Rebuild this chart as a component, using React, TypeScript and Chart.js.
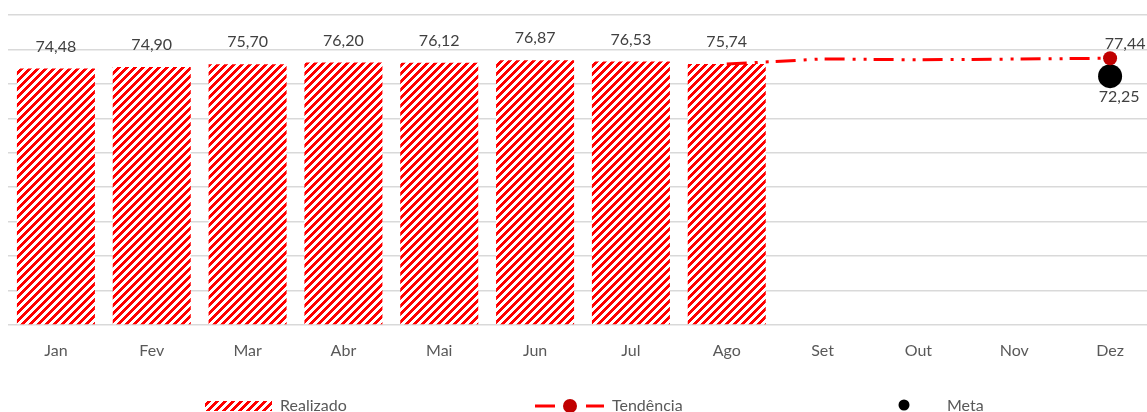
import React, { useEffect, useRef } from "react";
import { Chart, registerables } from "chart.js";

Chart.register(...registerables);

const months = ["Jan", "Fev", "Mar", "Abr", "Mai", "Jun", "Jul", "Ago", "Set", "Out", "Nov", "Dez"];
const realizado = [74.48, 74.9, 75.7, 76.2, 76.12, 76.87, 76.53, 75.74, null, null, null, null];
const tendencia = [null, null, null, null, null, null, null, 75.74, 77.25, 77.0, 77.2, 77.44];
const meta = [null, null, null, null, null, null, null, null, null, null, null, 72.25];
const yMin = 0;
const yMax = 90;
const yStep = 10;

const FONT = "Lato";
const fmt = (v: number) => v.toFixed(2).replace(".", ",");

function makePattern(ctx: CanvasRenderingContext2D): CanvasPattern {
  const c = document.createElement("canvas");
  c.width = 8;
  c.height = 8;
  const g = c.getContext("2d")!;
  const img = g.createImageData(8, 8);
  for (let y = 0; y < 8; y++) {
    for (let x = 0; x < 8; x++) {
      const i = (y * 8 + x) * 4;
      const on = (x + y) % 8 < 4;
      img.data[i] = 255;
      img.data[i + 1] = on ? 0 : 255;
      img.data[i + 2] = on ? 0 : 255;
      img.data[i + 3] = 255;
    }
  }
  g.putImageData(img, 0, 0);
  return ctx.createPattern(c, "repeat")!;
}

export default function App() {
  const ref = useRef<HTMLCanvasElement | null>(null);

  useEffect(() => {
    const canvas = ref.current!;
    const ctx0 = canvas.getContext("2d")!;
    const pattern = makePattern(ctx0);

    const labelsPlugin = {
      id: "valueLabels",
      afterDatasetsDraw(chart: any) {
        const ctx = chart.ctx;
        ctx.save();
        ctx.font = `16px ${FONT}`;
        ctx.fillStyle = "#404040";
        ctx.textAlign = "center";
        ctx.textBaseline = "middle";
        const barMeta = chart.getDatasetMeta(0);
        barMeta.data.forEach((el: any, i: number) => {
          const v = realizado[i];
          if (v == null) return;
          ctx.fillText(fmt(v), el.x, el.y - 22);
        });
        const tMeta = chart.getDatasetMeta(1);
        const last = tendencia.length - 1;
        const tEl = tMeta.data[last];
        if (tEl && tendencia[last] != null) {
          ctx.fillText(fmt(tendencia[last] as number), tEl.x + 15, tEl.y - 14);
        }
        const mMeta = chart.getDatasetMeta(2);
        meta.forEach((v, i) => {
          if (v == null) return;
          const el = mMeta.data[i];
          ctx.fillText(fmt(v), el.x + 9, el.y + 21);
        });
        ctx.restore();
      },
    };

    const legendPlugin = {
      id: "customLegend",
      afterDraw(chart: any) {
        const ctx = chart.ctx;
        ctx.save();
        const yc = 406;
        ctx.font = `16px ${FONT}`;
        ctx.fillStyle = "#595959";
        ctx.textAlign = "left";
        ctx.textBaseline = "middle";
        // Realizado
        ctx.fillStyle = pattern;
        ctx.fillRect(205, 401, 67, 10);
        ctx.fillStyle = "#595959";
        ctx.fillText("Realizado", 280, yc);
        // Tendência
        ctx.strokeStyle = "#FF0000";
        ctx.lineWidth = 3;
        ctx.beginPath();
        ctx.moveTo(535, yc);
        ctx.lineTo(555, yc);
        ctx.moveTo(586, yc);
        ctx.lineTo(604, yc);
        ctx.stroke();
        ctx.fillStyle = "#C00000";
        ctx.beginPath();
        ctx.arc(570, yc, 7, 0, Math.PI * 2);
        ctx.fill();
        ctx.fillStyle = "#595959";
        ctx.fillText("Tendência", 612, yc);
        // Meta
        ctx.fillStyle = "#000000";
        ctx.beginPath();
        ctx.arc(904, yc - 1, 5.5, 0, Math.PI * 2);
        ctx.fill();
        ctx.fillStyle = "#595959";
        ctx.fillText("Meta", 947, yc);
        ctx.restore();
      },
    };

    const chart = new Chart(canvas, {
      type: "bar",
      data: {
        labels: months,
        datasets: [
          {
            type: "bar",
            label: "Realizado",
            data: realizado,
            backgroundColor: pattern,
            borderWidth: 0,
            barPercentage: 0.814,
            categoryPercentage: 1,
            order: 3,
          },
          {
            type: "line",
            label: "Tendência",
            data: tendencia,
            borderColor: "#FF0000",
            borderWidth: 3,
            borderDash: [20, 8, 3, 8, 3, 7],
            pointRadius: tendencia.map((_, i) => (i === tendencia.length - 1 ? 7 : 0)),
            pointBackgroundColor: "#C00000",
            pointBorderWidth: 0,
            fill: false,
            tension: 0,
            spanGaps: false,
            order: 1,
          },
          {
            type: "line",
            label: "Meta",
            data: meta,
            showLine: false,
            pointRadius: 12,
            pointBackgroundColor: "#000000",
            pointBorderWidth: 0,
            order: 2,
          },
        ],
      } as any,
      plugins: [labelsPlugin, legendPlugin],
      options: {
        animation: false,
        responsive: false,
        devicePixelRatio: 1,
        layout: { autoPadding: false, padding: { left: 8, right: 2, top: 15, bottom: 0 } },
        plugins: {
          legend: { display: false },
          tooltip: { enabled: false },
        },
        scales: {
          x: {
            grid: { display: false, drawTicks: false },
            border: { display: false },
            ticks: {
              color: "#595959",
              font: { family: FONT, size: 16 },
              padding: 16,
              maxRotation: 0,
            },
            afterFit: (scale: any) => {
              scale.height = 87;
              scale.paddingLeft = 0;
              scale.paddingRight = 0;
            },
          },
          y: {
            min: yMin,
            max: yMax,
            ticks: { display: false, stepSize: yStep },
            grid: { color: "#D9D9D9", lineWidth: 1.5, drawTicks: false },
            border: { display: false },
            afterFit: (scale: any) => {
              scale.width = 0;
              scale.paddingTop = 0;
              scale.paddingBottom = 0;
            },
          },
        },
      } as any,
    });
    return () => chart.destroy();
  }, []);

  return (
    <div style={{ position: "fixed", left: 0, top: 0, width: 1147, height: 412, overflow: "hidden", background: "#fff" }}>
      <canvas ref={ref} width={1160} height={412} style={{ display: "block", width: 1160, height: 412 }} />
    </div>
  );
}
